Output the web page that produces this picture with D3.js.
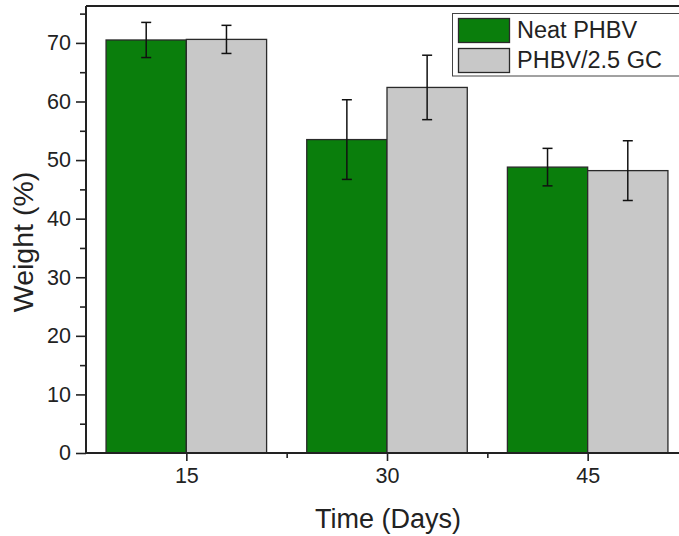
<!DOCTYPE html>
<html>
<head>
<meta charset="utf-8">
<script src="https://cdn.jsdelivr.net/npm/d3@7"></script>
<style>
  body { margin: 0; background: #fff; }
  text { font-family: Arial, "Liberation Sans", sans-serif; fill: #222; }
</style>
</head>
<body>
<svg id="chart" width="679" height="536"></svg>
<script>
// data
var days = [15, 30, 45];
var series = ["Neat PHBV", "PHBV/2.5 GC"];
var neatPHBV = [70.5, 53.5, 48.8];
var neatErr = [3.0, 6.8, 3.2];
var gcPHBV = [70.6, 62.4, 48.2];
var gcErr = [2.4, 5.5, 5.1];
var yTicks = [0, 10, 20, 30, 40, 50, 60, 70];
var yMinor = [5, 15, 25, 35, 45, 55, 65, 75];
var xMinor = [22.5, 37.5];

var colors = ["#0a7e0c", "#c8c8c8"];

var svg = d3.select("#chart"),
    pLeft = 86, pRight = 688, pTop = 6, pBottom = 453,
    barW = 6; // in day units

var x = d3.scaleLinear().domain([7.5, 52.5]).range([pLeft, pRight]);
var y = d3.scaleLinear().domain([0, 76.3]).range([pBottom, pTop]);

var groups = [
    {name: series[0], vals: neatPHBV, errs: neatErr, off: -barW, color: colors[0]},
    {name: series[1], vals: gcPHBV, errs: gcErr, off: 0, color: colors[1]}
];

// bars
groups.forEach(function(g) {
    var sel = svg.append("g").selectAll("g")
        .data(days.map(function(d, i) { return {day: d, v: g.vals[i], e: g.errs[i]}; }))
        .enter().append("g");

    sel.append("rect")
        .attr("x", function(d) { return x(d.day + g.off); })
        .attr("y", function(d) { return y(d.v); })
        .attr("width", function(d) { return x(d.day + g.off + barW) - x(d.day + g.off); })
        .attr("height", function(d) { return y(0) - y(d.v); })
        .attr("fill", g.color)
        .attr("stroke", "#2a2a2a")
        .attr("stroke-width", 1.3);

    var cx = function(d) { return x(d.day + g.off + barW / 2); };
    sel.append("line")
        .attr("x1", cx).attr("x2", cx)
        .attr("y1", function(d) { return y(d.v + d.e); })
        .attr("y2", function(d) { return y(d.v - d.e); })
        .attr("stroke", "#111").attr("stroke-width", 1.5);
    [1, -1].forEach(function(s) {
        sel.append("line")
            .attr("x1", function(d) { return cx(d) - 5; })
            .attr("x2", function(d) { return cx(d) + 5; })
            .attr("y1", function(d) { return y(d.v + s * d.e); })
            .attr("y2", function(d) { return y(d.v + s * d.e); })
            .attr("stroke", "#111").attr("stroke-width", 1.5);
    });
});

// frame top
svg.append("line")
    .attr("x1", pLeft).attr("x2", pRight)
    .attr("y1", pTop).attr("y2", pTop)
    .attr("stroke", "#222").attr("stroke-width", 2);

// axes
svg.append("g")
    .attr("class", "yaxis")
    .attr("transform", "translate(" + pLeft + ",0)")
    .call(d3.axisLeft(y).tickValues(yTicks).tickSize(10).tickPadding(5));
svg.append("g")
    .attr("class", "yaxis")
    .attr("transform", "translate(" + pLeft + ",0)")
    .call(d3.axisLeft(y).tickValues(yMinor).tickSize(6).tickFormat(""));

svg.append("g")
    .attr("class", "xaxis")
    .attr("transform", "translate(0," + pBottom + ")")
    .call(d3.axisBottom(x).tickValues(days).tickSize(8).tickPadding(7));
svg.append("g")
    .attr("class", "xaxis")
    .attr("transform", "translate(0," + pBottom + ")")
    .call(d3.axisBottom(x).tickValues(xMinor).tickSize(5).tickFormat(""));

svg.selectAll(".domain").attr("stroke", "#222").attr("stroke-width", 2);
svg.selectAll(".xaxis .domain").attr("d", "M" + pLeft + ",0H" + pRight);
svg.selectAll(".yaxis .domain").attr("d", "M0," + pBottom + "V" + pTop);
svg.selectAll(".tick line").attr("stroke", "#222").attr("stroke-width", 1.6);
svg.selectAll(".tick text").style("font-size", "21.5px").attr("fill", "#222");

// axis titles
svg.append("text")
    .attr("x", (pLeft + pRight) / 2 + 1).attr("y", 528)
    .attr("text-anchor", "middle")
    .style("font-size", "27px")
    .text("Time (Days)");

svg.append("text")
    .attr("transform", "translate(33,242) rotate(-90)")
    .attr("text-anchor", "middle")
    .style("font-size", "28.5px")
    .text("Weight (%)");

// legend
var legend = svg.append("g");
legend.append("rect")
    .attr("x", 452.5).attr("y", 13.5)
    .attr("width", 240).attr("height", 62.5)
    .attr("fill", "#fff").attr("stroke", "#444").attr("stroke-width", 1);
groups.forEach(function(g, i) {
    legend.append("rect")
        .attr("x", 458.5).attr("y", 18.5 + i * 30)
        .attr("width", 51).attr("height", 24)
        .attr("fill", g.color).attr("stroke", "#2a2a2a").attr("stroke-width", 1.3);
    legend.append("text")
        .attr("x", 517).attr("y", 37.5 + i * 30)
        .style("font-size", "23.5px")
        .text(g.name);
});
</script>
</body>
</html>
